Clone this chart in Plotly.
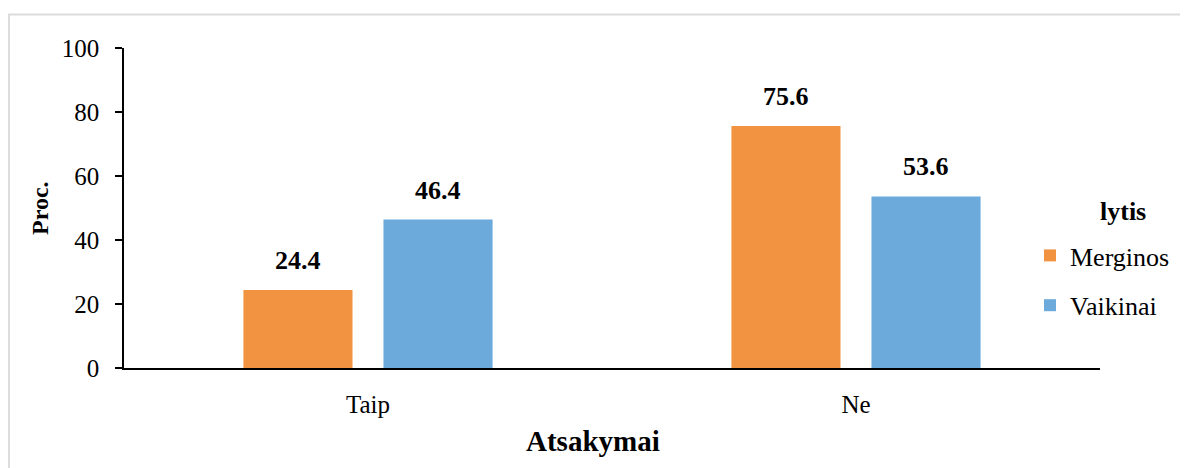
import plotly.graph_objects as go

categories = ["Taip", "Ne"]
merginos = [24.4, 75.6]
vaikinai = [46.4, 53.6]
series_names = ["Merginos", "Vaikinai"]
y_ticks = [0, 20, 40, 60, 80, 100]

colors = ["#F29341", "#6BAADB"]
FONT = "Liberation Serif"
BARGAP = 0.426
BARGROUPGAP = 0.221

# page body has an 8px margin; plot area target: x 124..1100, y 48..368 on screen
ML, MT, PW, PH = 116, 40, 976, 320
MR = 1188 - ML - PW
MB = 468 - MT - PH


def px_x(px):
    return (px - 8 - ML) / PW


def px_y(py):
    return 1 - (py - 8 - MT) / PH


fig = go.Figure()
for i, (name, vals) in enumerate(zip(series_names, [merginos, vaikinai])):
    fig.add_trace(go.Bar(
        x=categories, y=vals, name=name,
        marker=dict(color=colors[i], line=dict(width=0)),
        legendgroup=name,
    ))

# value labels above bars
slot = (1 - BARGAP) / 2
for i, vals in enumerate([merginos, vaikinai]):
    off = (i - 0.5) * slot
    for j, v in enumerate(vals):
        fig.add_annotation(
            x=j + off, y=v, xref="x", yref="y",
            text=f"<b>{v}</b>", showarrow=False,
            xanchor="center", yanchor="bottom", yshift=13,
            font=dict(family=FONT, size=26, color="black"),
        )

fig.add_annotation(x=px_x(40), y=px_y(208), xref="paper", yref="paper",
                   text="<b>Proc.</b>", textangle=-90, showarrow=False,
                   xanchor="center", yanchor="middle",
                   font=dict(family=FONT, size=24, color="black"))
fig.add_annotation(x=px_x(593), y=px_y(441), xref="paper", yref="paper",
                   text="<b>Atsakymai</b>", showarrow=False,
                   xanchor="center", yanchor="middle",
                   font=dict(family=FONT, size=29, color="black"))
fig.add_annotation(x=px_x(1123), y=px_y(211), xref="paper", yref="paper",
                   text="<b>lytis</b>", showarrow=False,
                   xanchor="center", yanchor="middle",
                   font=dict(family=FONT, size=26, color="black"))

# outer chart border
fig.add_shape(type="rect", xref="paper", yref="paper",
              x0=px_x(9), x1=px_x(1200), y0=px_y(480), y1=px_y(14.5),
              line=dict(color="#dcdcdc", width=2), layer="below")

fig.update_layout(
    width=1188, height=468,
    margin=dict(l=ML, r=MR, t=MT, b=MB),
    paper_bgcolor="white", plot_bgcolor="white",
    barmode="group", bargap=BARGAP, bargroupgap=BARGROUPGAP,
    font=dict(family=FONT, size=24, color="black"),
    showlegend=True,
    legend=dict(
        x=px_x(1030), y=px_y(232), xanchor="left", yanchor="top",
        font=dict(family=FONT, size=26),
        traceorder="grouped", tracegroupgap=13,
        itemwidth=30,
    ),
    xaxis=dict(
        showline=True, linecolor="black", linewidth=2,
        ticks="", ticklabelstandoff=13,
        tickfont=dict(family=FONT, size=25),
        showgrid=False,
    ),
    yaxis=dict(
        range=[0, 100], tickvals=y_ticks,
        showline=True, linecolor="black", linewidth=1.5,
        ticks="outside", ticklen=7, tickwidth=1.5, tickcolor="black",
        ticklabelstandoff=11,
        tickfont=dict(family=FONT, size=25),
        showgrid=False, zeroline=False,
    ),
)

fig.write_html("out.html")
